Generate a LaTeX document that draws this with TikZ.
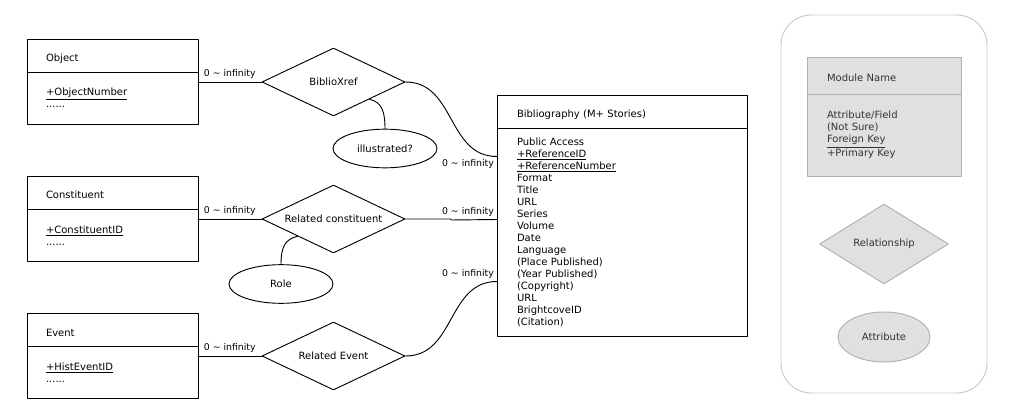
\documentclass[tikz,border=0pt]{standalone}
\usepackage{fontspec}
\setmainfont{DejaVu Sans}
\usetikzlibrary{calc}
\usetikzlibrary{positioning}
\usetikzlibrary{shapes.geometric}

\definecolor{keyfill}{HTML}{E0E0E0}
\definecolor{keyline}{HTML}{B0B0B0}
\definecolor{keytext}{HTML}{333333}
\definecolor{frameline}{HTML}{C8C8C8}

\begin{document}
\begin{tikzpicture}[x=0.75pt, y=-0.75pt, line cap = round, line join = round, line width=0.7pt, font=\fontsize{7.5pt}{9pt}\selectfont]
\tikzstyle{classhead}=[draw=black, rectangle, align=left, outer sep=0pt, minimum height=24.75pt, text height=10pt, text depth=1pt]
\tikzstyle{classbody}=[draw=black, rectangle, align=left, outer sep=0pt]
\tikzstyle{smallbox}=[minimum width=128.25pt, text width=99.75pt, inner xsep=14.25pt]
\tikzstyle{bigbox}=[minimum width=187.5pt, text width=157.5pt, inner xsep=15pt]
\tikzstyle{relation}=[draw=black, diamond, aspect=2.1, minimum width=107.25pt, minimum height=51pt, inner sep=0pt]
\tikzstyle{attrib}=[draw=black, ellipse, minimum width=78pt, minimum height=29pt, inner sep=0pt]
\tikzstyle{card}=[font=\fontsize{7pt}{8pt}\selectfont, inner sep=2pt]
\tikzstyle{keyshape}=[fill=keyfill, draw=keyline, text=keytext]
\useasboundingbox (0,0) rectangle (1024,420);

% entities
\node[classhead, smallbox] (object) at (112.5,55.5) {Object};
\node[classbody, smallbox, below=0pt of object, minimum height=39pt] (object-body) {\underline{+ObjectNumber}\\......};
\node[classhead, smallbox] (constituent) at (112.5,193) {Constituent};
\node[classbody, smallbox, below=0pt of constituent, minimum height=39pt] (constituent-body) {\underline{+ConstituentID}\\......};
\node[classhead, smallbox] (event) at (112.5,330) {Event};
\node[classbody, smallbox, below=0pt of event, minimum height=39pt] (event-body) {\underline{+HistEventID}\\......};

\node[classhead, bigbox] (bib) at (622,112) {Bibliography (M+ Stories)};
\node[classbody, bigbox, below=0pt of bib, minimum height=156pt] (bib-body) {Public Access\\\underline{+ReferenceID}\\\underline{+ReferenceNumber}\\Format\\Title\\URL\\Series\\Volume\\Date\\Language\\(Place Published)\\(Year Published)\\(Copyright)\\URL\\BrightcoveID\\(Citation)};

% relationships
\node[relation] (xref) at (333.5,82) {BiblioXref};
\node[relation] (relcon) at (333.5,219) {Related constituent};
\node[relation] (relev) at (333.5,356) {Related Event};
\node[attrib] (illus) at (385,148.5) {illustrated?};
\node[attrib] (role) at (281,284) {Role};

\coordinate (bib-in1) at ($(bib-body.north west)+(0,28)$);
\coordinate (bib-in2) at ($(bib-body.north west)+(0,91)$);
\coordinate (bib-in3) at ($(bib-body.north west)+(0,153)$);

\draw (object-body.east |- xref.west) -- (xref.west) node[card, midway, above]{0 \textasciitilde{} infinity};
\draw (xref.east) .. controls +(50,0) and +(-50,0) .. (bib-in1) node[card, below left]{0 \textasciitilde{} infinity};
\draw (constituent-body.east |- relcon.west) -- (relcon.west) node[card, midway, above]{0 \textasciitilde{} infinity};
\draw (relcon.east) -- ++(45,0) -- ++(1,1) -- (bib-in2) node[card, above left]{0 \textasciitilde{} infinity};
\draw (event-body.east |- relev.west) -- (relev.west) node[card, midway, above]{0 \textasciitilde{} infinity};
\draw (relev.east) .. controls +(50,0) and +(-50,0) .. (bib-in3) node[card, above left]{0 \textasciitilde{} infinity};

\draw (illus.north) .. controls +(0,-18) and +(12,3) .. ($(xref.east)!0.5!(xref.south)$);
\draw (role.north) .. controls +(0,-18) and +(-12,3) .. ($(relcon.west)!0.5!(relcon.south)$);

% legend
\node[draw=frameline, rounded corners=22.5pt, minimum width=154.5pt, minimum height=283.5pt] (legend) at (884,204) {};
\node[classhead, keyshape, minimum width=115.5pt, text width=85.5pt, inner xsep=15pt, minimum height=27.75pt] (module) at (884,75.5) {Module Name};
\node[classbody, keyshape, minimum width=115.5pt, text width=85.5pt, inner xsep=15pt, minimum height=61.5pt, below=0pt of module] (module-body) {Attribute/Field\\(Not Sure)\\\underline{Foreign Key}\\+Primary Key};
\node[relation, keyshape, minimum width=96.75pt, minimum height=60pt] (key-rel) at (884,244) {Relationship};
\node[attrib, keyshape, minimum width=69pt, minimum height=37.5pt] (key-attr) at (884,337) {Attribute};
%\draw (module-body.south) -- (key-rel.north);
\end{tikzpicture}
\end{document}
